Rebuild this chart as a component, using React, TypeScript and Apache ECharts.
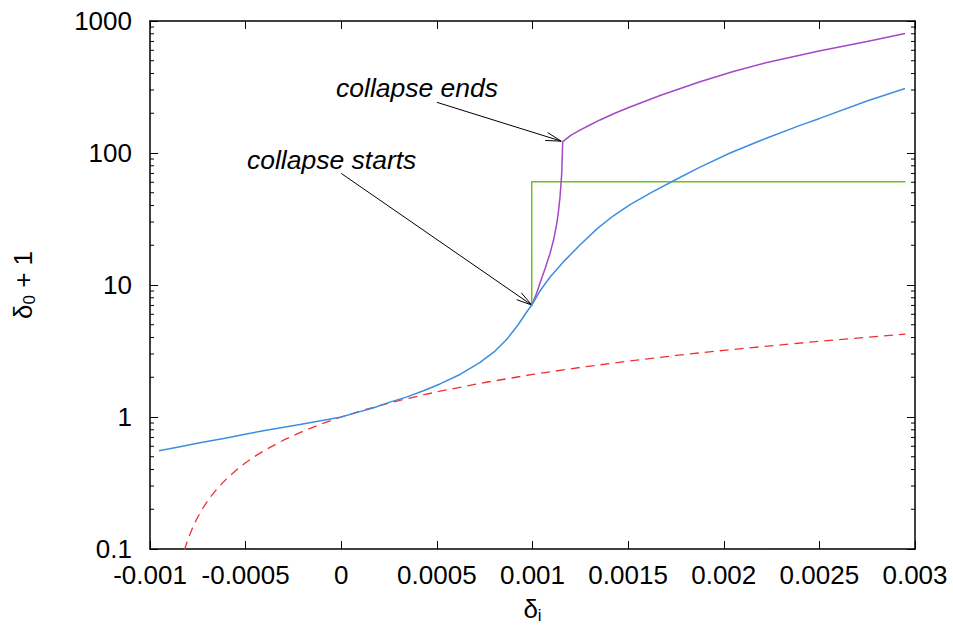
import React, { useEffect, useRef } from "react";
import * as echarts from "echarts";

const FONT = "'Liberation Sans', Arial, Helvetica, sans-serif";

// axis ranges / ticks
const xRange = [-0.001, 0.003];
const xInterval = 0.0005;
const yRange = [0.1, 1000];
const yMinorTicks = [
  0.2, 0.3, 0.4, 0.5, 0.6, 0.7, 0.8, 0.9,
  2, 3, 4, 5, 6, 7, 8, 9,
  20, 30, 40, 50, 60, 70, 80, 90,
  200, 300, 400, 500, 600, 700, 800, 900,
];

// red dashed: linear theory
const linearCurve: [number, number][] = [
  [-0.00082, 0.098], [-0.00081, 0.109], [-0.0008, 0.12], [-0.00078, 0.142],
  [-0.00076, 0.164], [-0.00074, 0.186], [-0.00072, 0.208], [-0.0007, 0.23],
  [-0.00067, 0.263], [-0.00064, 0.296], [-0.0006, 0.34], [-0.00055, 0.395],
  [-0.0005, 0.45], [-0.00045, 0.505], [-0.0004, 0.56], [-0.0003, 0.67],
  [-0.0002, 0.78], [-0.0001, 0.89], [0, 1.0], [0.0001, 1.11], [0.0002, 1.22],
  [0.00035, 1.385], [0.0005, 1.55], [0.00075, 1.825], [0.001, 2.1],
  [0.00125, 2.375], [0.0015, 2.65], [0.00175, 2.925], [0.002, 3.2],
  [0.0025, 3.75], [0.00295, 4.25],
];

// green: step
const stepCurve: [number, number][] = [
  [0.000996, 6.9], [0.000996, 60.5], [0.00295, 60.5],
];

// purple: collapse
const collapseCurve: [number, number][] = [
  [0.000996, 7.05], [0.001018, 8.4], [0.001039, 10.3], [0.001065, 13.2],
  [0.001092, 17.4], [0.00111, 21.9], [0.001127, 29.3], [0.001136, 36.4],
  [0.001144, 46.7], [0.001153, 70.2], [0.001158, 122],
  [0.0012, 136], [0.001248, 149], [0.0013, 163], [0.001353, 178],
  [0.00143, 200], [0.00151, 223], [0.001667, 273],
  [0.001876, 347], [0.00205, 415], [0.002226, 485], [0.002498, 593],
  [0.002749, 700], [0.002948, 804],
];

// blue: nonlinear
const nonlinearCurve: [number, number][] = [
  [-0.000953, 0.556], [-0.00085, 0.593], [-0.000739, 0.638], [-0.0006, 0.693],
  [-0.000503, 0.74], [-0.0004, 0.789], [-0.000216, 0.877], [-0.0001, 0.942],
  [0, 1.0], [0.00008, 1.079], [0.000166, 1.17], [0.00025, 1.29],
  [0.000344, 1.42], [0.00043, 1.58], [0.000516, 1.78],
  [0.000621, 2.1], [0.000726, 2.59], [0.000804, 3.16], [0.000867, 3.9],
  [0.000924, 4.98], [0.000966, 6.14], [0.000996, 7.05], [0.001039, 9.0],
  [0.001092, 11.5], [0.00116, 14.9], [0.001248, 20.1], [0.001337, 26.6],
  [0.001421, 33.3], [0.00151, 40.6], [0.001625, 50.5], [0.001745, 62.4],
  [0.001876, 78.2], [0.002033, 100], [0.002226, 130], [0.002399, 162],
  [0.002498, 182], [0.002749, 248], [0.002948, 308],
];

// annotations (data coordinates)
const annotationTexts = ["collapse ends", "collapse starts"];
const annotationTextAt: [number, number][] = [[-0.0000274, 311], [-0.000493, 88.5]];
const annotationFrom: [number, number][] = [[0.0005, 242], [0.0, 70]];
const annotationTo: [number, number][] = [[0.00115, 123], [0.000996, 7.05]];

const fmtX = (v: number) => {
  const r = parseFloat(v.toFixed(5));
  return r === 0 ? "0" : String(r);
};
const fmtY = (v: number) => String(parseFloat(Number(v).toPrecision(6)));

const axisLineStyle = { onZero: false, lineStyle: { color: "#000", width: 1.5 } };
const majorTick = { show: true, inside: true, length: 8, lineStyle: { color: "#000", width: 1 } };

export default function App() {
  const ref = useRef<HTMLDivElement>(null);
  useEffect(() => {
    const chart = echarts.init(ref.current!, null, { renderer: "svg" });
    const option: any = {
      animation: false,
      backgroundColor: "#fff",
      grid: { left: 150, right: 38, top: 21, bottom: 81, containLabel: false },
      xAxis: [
        {
          type: "value",
          min: xRange[0],
          max: xRange[1],
          interval: xInterval,
          position: "bottom",
          axisLine: { show: true, ...axisLineStyle },
          axisTick: majorTick,
          axisLabel: { show: true, formatter: fmtX, fontSize: 26, fontFamily: FONT, color: "#000", margin: 13 },
          splitLine: { show: false },
          name: "{d|δ}{s|i}",
          nameLocation: "middle",
          nameGap: 44,
          nameTextStyle: {
            color: "#000",
            rich: {
              d: { fontSize: 26, fontFamily: FONT, color: "#000" },
              s: { fontSize: 17, fontFamily: FONT, color: "#000", padding: [14, 0, 0, 0] },
            },
          },
        },
        {
          type: "value",
          min: xRange[0],
          max: xRange[1],
          interval: xInterval,
          position: "top",
          axisLine: { show: true, ...axisLineStyle },
          axisTick: majorTick,
          axisLabel: { show: false },
          splitLine: { show: false },
        },
      ],
      yAxis: [
        {
          type: "log",
          logBase: 10,
          min: yRange[0],
          max: yRange[1],
          position: "left",
          axisLine: { show: true, ...axisLineStyle },
          axisTick: majorTick,
          axisLabel: { show: true, formatter: fmtY, fontSize: 26, fontFamily: FONT, color: "#000", margin: 18 },
          splitLine: { show: false },
          minorTick: { show: false },
          name: "{d|δ}{s|0}{d| + 1}",
          nameLocation: "middle",
          nameGap: 112,
          nameRotate: 90,
          nameTextStyle: {
            color: "#000",
            rich: {
              d: { fontSize: 26, fontFamily: FONT, color: "#000" },
              s: { fontSize: 17, fontFamily: FONT, color: "#000", padding: [14, 0, 0, 0] },
            },
          },
        },
        {
          type: "log",
          logBase: 10,
          min: yRange[0],
          max: yRange[1],
          position: "right",
          axisLine: { show: true, ...axisLineStyle },
          axisTick: majorTick,
          axisLabel: { show: false },
          splitLine: { show: false },
        },
      ],
      series: [
        {
          name: "linear",
          type: "line",
          data: linearCurve,
          showSymbol: false,
          lineStyle: { color: "#f03030", width: 1.3, type: [9, 6] },
          z: 2,
        },
        {
          name: "step",
          type: "line",
          data: stepCurve,
          showSymbol: false,
          lineStyle: { color: "#6cc020", width: 1.5 },
          z: 3,
        },
        {
          name: "collapse",
          type: "line",
          data: collapseCurve,
          showSymbol: false,
          lineStyle: { color: "#a448c8", width: 1.5 },
          z: 4,
        },
        {
          name: "nonlinear",
          type: "line",
          data: nonlinearCurve,
          showSymbol: false,
          lineStyle: { color: "#3d8ee2", width: 1.5 },
          z: 5,
        },
      ],
    };
    chart.setOption(option);

    const P = (p: [number, number]) =>
      chart.convertToPixel({ xAxisIndex: 0, yAxisIndex: 0 }, p) as number[];

    const graphics: any[] = [];
    // minor ticks on log axis (left and right)
    yMinorTicks.forEach((v) => {
      const l = P([xRange[0], v]);
      const r = P([xRange[1], v]);
      graphics.push({
        type: "line",
        shape: { x1: l[0], y1: l[1], x2: l[0] + 4, y2: l[1] },
        style: { stroke: "#000", lineWidth: 1 },
        silent: true,
      });
      graphics.push({
        type: "line",
        shape: { x1: r[0] - 4, y1: r[1], x2: r[0], y2: r[1] },
        style: { stroke: "#000", lineWidth: 1 },
        silent: true,
      });
    });

    // annotations
    annotationTexts.forEach((t, i) => {
      const tp = P(annotationTextAt[i]);
      graphics.push({
        type: "text",
        x: tp[0],
        y: tp[1],
        style: {
          text: t,
          fontSize: 26.5,
          fontFamily: FONT,
          fontStyle: "italic",
          fill: "#000",
          align: "left",
          verticalAlign: "middle",
        },
        silent: true,
      });
      const a = P(annotationFrom[i]);
      const b = P(annotationTo[i]);
      graphics.push({
        type: "line",
        shape: { x1: a[0], y1: a[1], x2: b[0], y2: b[1] },
        style: { stroke: "#000", lineWidth: 1 },
        silent: true,
      });
      const ang = Math.atan2(a[1] - b[1], a[0] - b[0]);
      const len = 16;
      const half = (15 * Math.PI) / 180;
      [ang - half, ang + half].forEach((g) => {
        graphics.push({
          type: "line",
          shape: { x1: b[0], y1: b[1], x2: b[0] + len * Math.cos(g), y2: b[1] + len * Math.sin(g) },
          style: { stroke: "#000", lineWidth: 1 },
          silent: true,
        });
      });
    });

    chart.setOption({ graphic: graphics });
    return () => chart.dispose();
  }, []);
  return (
    <div
      ref={ref}
      style={{ position: "fixed", left: 0, top: 0, width: 953, height: 630, background: "#fff" }}
    />
  );
}
